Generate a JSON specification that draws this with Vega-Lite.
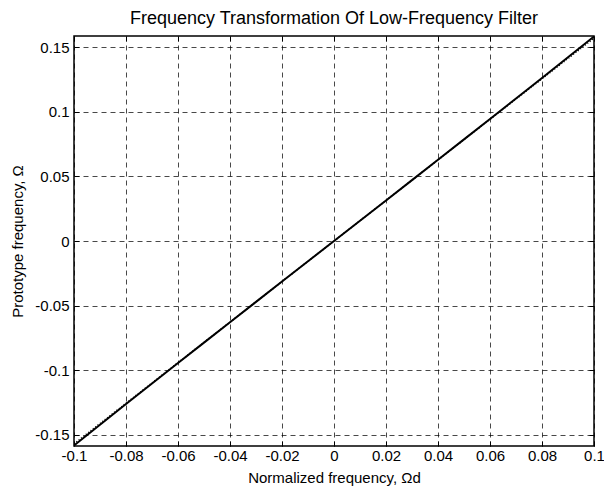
{
  "$schema": "https://vega.github.io/schema/vega-lite/v6.json",
  "width": 520,
  "height": 410,
  "autosize": "none",
  "padding": {"left": 74, "top": 36, "right": 10, "bottom": 46},
  "background": "white",
  "title": {"text": "Frequency Transformation Of Low-Frequency Filter", "font": "Liberation Sans", "fontSize": 18, "fontWeight": "normal", "color": "black", "offset": 8},
  "config": {
    "view": {"stroke": "black", "strokeWidth": 1.5},
    "axis": {"labelFont": "Liberation Sans", "labelFontSize": 15, "labelColor": "black", "titleFont": "Liberation Sans", "titleFontSize": 15, "titleFontWeight": "normal", "titleColor": "black", "domain": false, "tickColor": "black", "tickSize": -5, "tickWidth": 1, "gridColor": "black", "gridDash": [5, 4], "gridWidth": 0.8, "gridOpacity": 0.9}
  },
  "data": {"values": [
    {"x": -0.10, "y": -0.158384, "lin": -0.15708},
    {"x": -0.09, "y": -0.142323, "lin": -0.14137},
    {"x": -0.08, "y": -0.126330, "lin": -0.12566},
    {"x": -0.07, "y": -0.110402, "lin": -0.10996},
    {"x": -0.06, "y": -0.094528, "lin": -0.09425},
    {"x": -0.05, "y": -0.078702, "lin": -0.07854},
    {"x": -0.04, "y": -0.062915, "lin": -0.06283},
    {"x": -0.03, "y": -0.047159, "lin": -0.04712},
    {"x": -0.02, "y": -0.031426, "lin": -0.03142},
    {"x": -0.01, "y": -0.015709, "lin": -0.01571},
    {"x": 0.00, "y": 0.0, "lin": 0.0},
    {"x": 0.01, "y": 0.015709, "lin": 0.01571},
    {"x": 0.02, "y": 0.031426, "lin": 0.03142},
    {"x": 0.03, "y": 0.047159, "lin": 0.04712},
    {"x": 0.04, "y": 0.062915, "lin": 0.06283},
    {"x": 0.05, "y": 0.078702, "lin": 0.07854},
    {"x": 0.06, "y": 0.094528, "lin": 0.09425},
    {"x": 0.07, "y": 0.110402, "lin": 0.10996},
    {"x": 0.08, "y": 0.126330, "lin": 0.12566},
    {"x": 0.09, "y": 0.142323, "lin": 0.14137},
    {"x": 0.10, "y": 0.158384, "lin": 0.15708}
  ]},
  "layer": [
    {
      "mark": {"type": "line", "color": "black", "strokeWidth": 2, "clip": true},
      "encoding": {
        "x": {"field": "x", "type": "quantitative", "scale": {"domain": [-0.1, 0.1], "nice": false, "zero": false},
              "axis": {"orient": "bottom", "title": "Normalized frequency, Ωd", "values": [-0.1, -0.08, -0.06, -0.04, -0.02, 0, 0.02, 0.04, 0.06, 0.08, 0.1], "labelExpr": "'' + datum.value", "labelPadding": 7, "titlePadding": 7, "labelFlush": false, "grid": true}},
        "y": {"field": "y", "type": "quantitative", "scale": {"domain": [-0.1588, 0.1588], "nice": false, "zero": false},
              "axis": {"orient": "left", "title": "Prototype frequency, Ω", "values": [-0.15, -0.1, -0.05, 0, 0.05, 0.1, 0.15], "labelExpr": "'' + datum.value", "labelPadding": 10, "titlePadding": 9, "labelFlush": false, "grid": true}}
      }
    },
    {
      "mark": {"type": "line", "color": "black", "strokeWidth": 1.5, "strokeDash": [1, 2], "clip": true},
      "encoding": {
        "x": {"field": "x", "type": "quantitative",
              "axis": {"orient": "top", "title": null, "labels": false, "grid": false, "values": [-0.1, -0.08, -0.06, -0.04, -0.02, 0, 0.02, 0.04, 0.06, 0.08, 0.1]}},
        "y": {"field": "lin", "type": "quantitative",
              "axis": {"orient": "right", "title": null, "labels": false, "grid": false, "values": [-0.15, -0.1, -0.05, 0, 0.05, 0.1, 0.15]}}
      }
    }
  ],
  "resolve": {"axis": {"x": "independent", "y": "independent"}}
}
